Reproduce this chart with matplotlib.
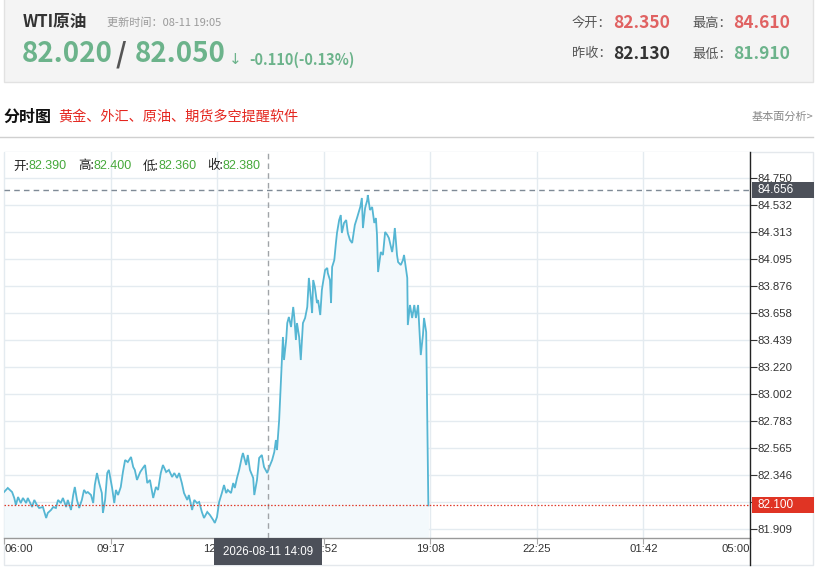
import matplotlib
matplotlib.use("Agg")
import matplotlib.pyplot as plt
from matplotlib.patches import Rectangle
from matplotlib.lines import Line2D
from matplotlib.transforms import blended_transform_factory

plt.rcParams['font.family'] = ['Noto Sans CJK SC', 'DejaVu Sans']

# ---------------- data ----------------
times = ["06:00","06:07","06:15","06:19","06:22","06:26","06:31","06:35","06:41","06:44",
         "06:52","06:56","07:01","07:05","07:12","07:18","07:21","07:27","07:31","07:36",
         "07:40","07:45","07:49","07:55","07:58","08:04","08:08","08:11","08:15","08:19",
         "08:24","08:28","08:32","08:35","08:41","08:45","08:48","08:52","08:56","09:01",
         "09:03","09:07","09:11","09:14","09:20","09:24","09:27","09:31","09:36","09:40",
         "09:44","09:49","09:55","09:59","10:02","10:06","10:12","10:17","10:21","10:25",
         "10:30","10:36","10:41","10:45","10:50","10:54","11:00","11:05","11:11","11:15",
         "11:20","11:24","11:29","11:33","11:39","11:42","11:48","11:52","11:57","12:01",
         "12:06","12:10","12:16","12:21","12:27","12:30","12:34","12:38","12:43","12:47",
         "12:51","12:54","13:00","13:04","13:07","13:11","13:15","13:20","13:22","13:28",
         "13:31","13:35","13:41","13:43","13:48","13:52","13:57","14:01","14:07","14:10",
         "14:16","14:20","14:23","14:25","14:29","14:32","14:36","14:38","14:42","14:44",
         "14:47","14:51","14:55","14:57","15:00","15:02","15:06","15:09","15:13","15:17",
         "15:21","15:22","15:24","15:28","15:30","15:32","15:35","15:39","15:41","15:45",
         "15:48","15:50","15:54","15:58","15:59","16:03","16:05","16:07","16:11","16:14",
         "16:16","16:20","16:23","16:25","16:29","16:33","16:36","16:40","16:44","16:49",
         "16:53","16:59","17:02","17:04","17:08","17:12","17:13","17:17","17:21","17:25",
         "17:28","17:30","17:32","17:37","17:41","17:45","17:49","17:52","17:58","18:00",
         "18:03","18:07","18:09","18:14","18:18","18:20","18:26","18:27","18:31","18:35",
         "18:39","18:42","18:46","18:48","18:51","18:55","18:57","19:01","19:05"]
prices = [82.208,82.241,82.208,82.160,82.103,82.168,82.119,82.160,82.119,82.160,
          82.087,82.144,82.103,82.079,82.087,81.998,82.039,82.063,82.087,82.079,
          82.144,82.119,82.160,82.087,82.144,82.063,82.184,82.249,82.144,82.079,
          82.144,82.225,82.200,82.208,82.184,82.119,82.265,82.362,82.281,82.200,
          82.039,82.144,82.362,82.387,82.241,82.119,82.225,82.184,82.249,82.370,
          82.467,82.451,82.492,82.411,82.387,82.306,82.370,82.403,82.427,82.281,
          82.306,82.160,82.249,82.225,82.362,82.427,82.370,82.387,82.330,82.362,
          82.322,82.362,82.281,82.200,82.144,82.184,82.063,82.144,82.119,82.128,
          82.047,81.998,82.047,82.022,81.982,81.958,82.006,82.128,82.200,82.265,
          82.200,82.225,82.200,82.281,82.241,82.322,82.387,82.492,82.524,82.427,
          82.508,82.387,82.322,82.184,82.306,82.484,82.508,82.411,82.362,82.403,
          82.467,82.532,82.629,82.548,82.791,83.074,83.463,83.277,83.439,83.576,
          83.625,83.544,83.706,83.625,83.439,83.576,83.463,83.277,83.576,83.617,
          83.706,83.787,83.941,83.762,83.657,83.924,83.868,83.738,83.762,83.641,
          83.843,83.900,84.005,84.022,83.981,83.924,83.738,84.030,84.086,84.224,
          84.305,84.410,84.450,84.305,84.386,84.410,84.305,84.248,84.224,84.370,
          84.426,84.515,84.588,84.345,84.507,84.572,84.612,84.491,84.515,84.386,
          84.426,84.289,83.989,84.151,84.127,84.313,84.289,84.264,84.151,84.208,
          84.345,84.127,84.070,84.046,84.086,84.127,83.941,83.560,83.722,83.617,
          83.722,83.617,83.722,83.560,83.317,83.479,83.617,83.503,82.100]

x_labels = ["06:00", "09:17", "12:34", "15:52", "19:08", "22:25", "01:42", "05:00"]
y_labels = ["81.909", "82.128", "82.346", "82.565", "82.783", "83.002", "83.220",
            "83.439", "83.658", "83.876", "84.095", "84.313", "84.532", "84.750"]
y_hidden = ["82.128"]
cross_price = 84.656
last_price = 82.100
cross_label = "2026-08-11 14:09"
cross_time = "14:09"

title = "WTI原油"
update_text = "更新时间：08-11 19:05"
bid, ask = "82.020", "82.050"
change_text = "-0.110(-0.13%)"
stats = {"今开：": "82.350", "最高：": "84.610", "昨收：": "82.130", "最低：": "81.910"}
ohlc_names = ["开:", "高:", "低:", "收:"]
ohlc_vals = ["82.390", "82.400", "82.360", "82.380"]

# ---------------- helpers ----------------
W, H = 830, 568
fig = plt.figure(figsize=(W / 100, H / 100), dpi=100)
fig.patch.set_facecolor("white")


def fx(x):
    return x / W


def fy(y):
    return 1 - y / H


def txt(x, y, s, **kw):
    fig.text(fx(x), fy(y), s, **kw)


def mins(t):
    h, m = map(int, t.split(":"))
    v = (h - 6) * 60 + m
    return v if v >= 0 else v + 1440


GREEN = "#6cb38b"
RED = "#e06262"
DARK = "#333333"
GRAYT = "#888888"
LAT = ["Liberation Sans", "DejaVu Sans"]

# header box
fig.add_artist(Rectangle((fx(4), fy(82)), fx(809), 82 / H + 0.01, transform=fig.transFigure,
                         facecolor="#f4f4f4", edgecolor="#e2e2e2", lw=1, zorder=0))
txt(23, 22, title, fontsize=12, fontweight="bold", color=DARK, va="center")
txt(107, 23, update_text, fontsize=8, color="#9a9a9a", va="center")
txt(22, 54, bid, fontsize=20, fontweight="bold", color=GREEN, va="center")
txt(116, 54, "/", fontsize=20, fontweight="bold", color="#555555", va="center")
txt(135, 54, ask, fontsize=20, fontweight="bold", color=GREEN, va="center")
txt(229, 60, "↓", fontsize=11, color=GREEN, va="center", family="DejaVu Sans")
txt(249, 60, change_text, fontsize=10.5, fontweight="bold", color=GREEN, va="center")

keys = list(stats.keys())
vals = list(stats.values())
colors_v = [RED, RED, DARK, GREEN]
pos = [(572, 613, 23), (692, 733, 23), (572, 613, 54), (692, 733, 54)]
for k, v, c, (xl, xv, yy) in zip(keys, vals, colors_v, pos):
    txt(xl, yy, k, fontsize=9.5, color="#555555", va="center")
    txt(xv, yy, v, fontsize=12.5, fontweight="bold", color=c, va="center")

txt(3, 117, "分时图", fontsize=11.5, fontweight="bold", color="#111111", va="center")
txt(58, 117, "黄金、外汇、原油、期货多空提醒软件", fontsize=10.2, color="#e4261f", va="center")
txt(813, 117, "基本面分析>", fontsize=8, color=GRAYT, va="center", ha="right")
fig.add_artist(Line2D([0, fx(813)], [fy(137), fy(137)], transform=fig.transFigure,
                      color="#d0d0d0", lw=1))

# chart frame
fig.add_artist(Rectangle((fx(4), fy(565)), fx(809), (565 - 152) / H, transform=fig.transFigure,
                         facecolor="none", edgecolor="#e4e8ec", lw=1, zorder=0))

# ---------------- axes ----------------
L, R, T, B = 4, 750, 152, 538
ax = fig.add_axes([fx(L), fy(B), fx(R - L), (B - T) / H])
ax.set_facecolor("white")

total = 1380
xt = [total * i / 7 for i in range(8)]
yv = [float(v) for v in y_labels]
y0, y1 = yv[0], yv[-1]
ppu = (529 - 178) / (y1 - y0)
ylo = y0 - (B - 529) / ppu
yhi = y1 + (178 - T) / ppu
ax.set_xlim(0, total)
ax.set_ylim(ylo, yhi)

tm = [mins(t) for t in times]
ax.fill_between(tm, prices, ylo, color="#f3f9fc", lw=0, zorder=1)
ax.plot(tm, prices, color="#55b6d3", lw=1.3, zorder=3, solid_joinstyle="miter")

for v in xt:
    ax.axvline(v, color="#e4ebf0", lw=1, zorder=0)
for v in yv:
    ax.axhline(v, color="#e4ebf0", lw=1, zorder=0)

ax.set_xticks(xt)
ax.set_xticklabels([])
ax.set_yticks(yv)
ax.set_yticklabels([("" if s in y_hidden else s) for s in y_labels])
ax.yaxis.tick_right()
ax.tick_params(axis="y", direction="out", length=5, width=0.8, color="#333333",
               labelsize=8.2, labelcolor=DARK, pad=0.5)
ax.tick_params(axis="x", direction="out", length=4, width=0.8, color="#aaaaaa")
for lab in ax.get_yticklabels():
    lab.set_family(LAT)

for s in ["top", "left", "right"]:
    ax.spines[s].set_visible(False)
ax.spines["bottom"].set_color("#999999")
ax.spines["bottom"].set_linewidth(1)

# x tick labels
xtr = blended_transform_factory(ax.transData, ax.transAxes)
for i, (v, s) in enumerate(zip(xt, x_labels)):
    ha = "left" if i == 0 else ("right" if i == len(xt) - 1 else "center")
    ax.text(v, -0.028, s, transform=xtr, ha=ha, va="center", fontsize=8.2, color=DARK,
            family=LAT, clip_on=False)

# right axis line (full height)
fig.add_artist(Line2D([fx(R), fx(R)], [fy(565), fy(T)], transform=fig.transFigure,
                      color="#222222", lw=1, zorder=5))

# crosshair
ct = mins(cross_time)
ax.axvline(ct, color="#a0a4a8", lw=1, ls=(0, (4, 3)), zorder=4)
ax.axhline(cross_price, color="#7f8a96", lw=1, ls=(0, (4, 3)), zorder=4)
ax.axhline(last_price, color="#e03a2a", lw=0.9, ls=(0, (1.2, 1.5)), zorder=4)

bt = blended_transform_factory(ax.transAxes, ax.transData)
bw = (813 - 751) / (R - L)
bh = 16 / ppu
for val, fc in [(cross_price, "#4c5059"), (last_price, "#e03424")]:
    ax.add_patch(Rectangle((1 + 1.5 / (R - L), val - bh / 2), bw, bh, transform=bt,
                           facecolor=fc, edgecolor="none", clip_on=False, zorder=6))
    ax.text(1 + 7 / (R - L), val, f"{val:.3f}", transform=bt, color="white", fontsize=8.5,
            va="center", ha="left", family=LAT, clip_on=False, zorder=7)

# tooltip at bottom
cx = L + ct / total * (R - L)
fig.add_artist(Rectangle((fx(cx - 54), fy(565)), fx(108), 27 / H, transform=fig.transFigure,
                         facecolor="#4c5059", edgecolor="none", zorder=10))
fig.text(fx(cx), fy(552), cross_label, ha="center", va="center", color="white",
         fontsize=8.3, family=LAT, zorder=11)

# OHLC legend
ox = [13, 78, 143, 207]
for x0, n, v in zip(ox, ohlc_names, ohlc_vals):
    txt(x0, 166, n, fontsize=9, color="#222222", va="center")
    txt(x0 + 15.5, 166, v, fontsize=9, color="#45a83a", va="center", family=LAT)

fig.savefig("out.png", dpi=100)
